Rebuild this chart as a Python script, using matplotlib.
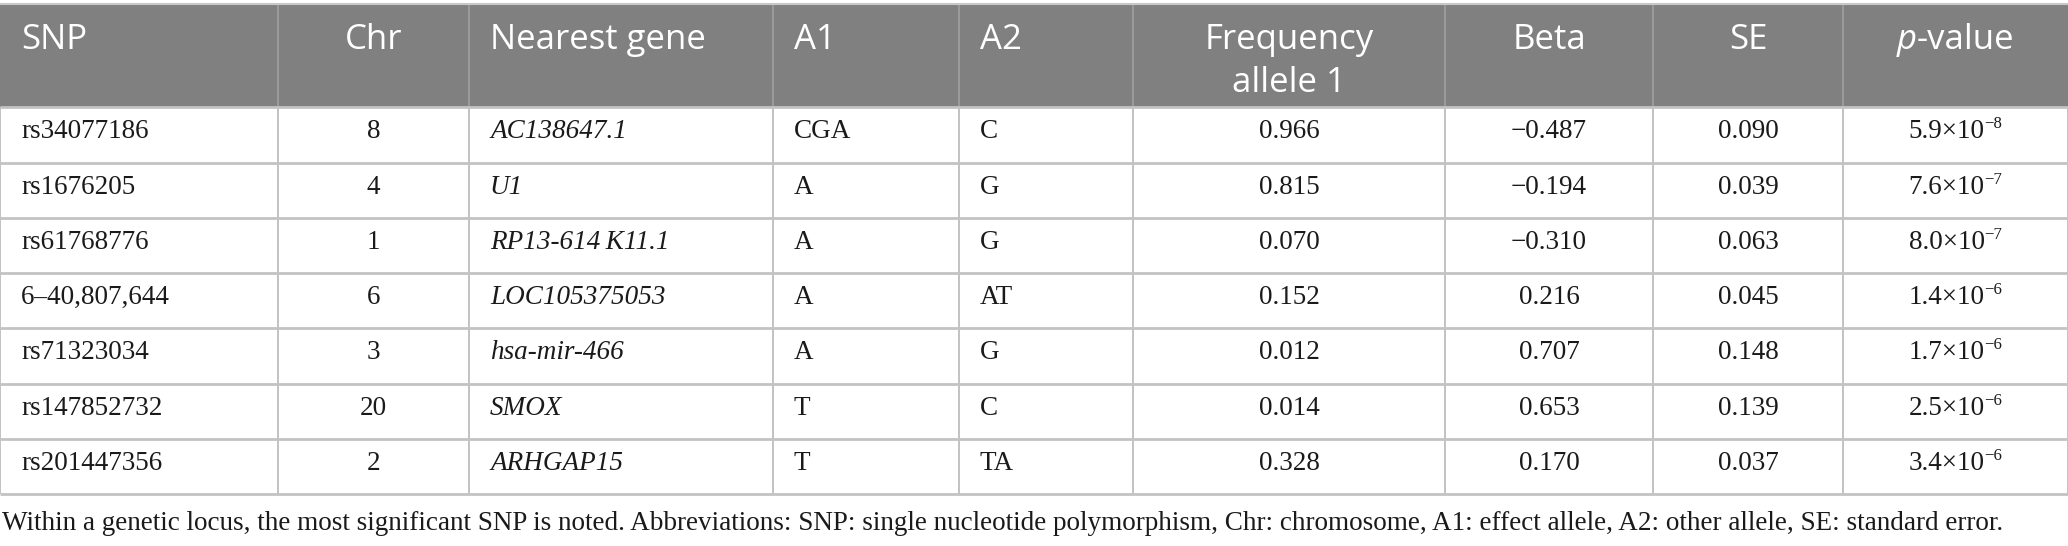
import matplotlib
matplotlib.use('Agg')
import matplotlib.pyplot as plt
from matplotlib.patches import Rectangle

W, H = 2068, 546

# ---- data ----
headers = ['SNP', 'Chr', 'Nearest gene', 'A1', 'A2', 'Frequency\nallele 1', 'Beta', 'SE', 'p-value']
snp = ['rs34077186', 'rs1676205', 'rs61768776', '6\u201340,807,644', 'rs71323034', 'rs147852732', 'rs201447356']
chrom = ['8', '4', '1', '6', '3', '20', '2']
gene = ['AC138647.1', 'U1', 'RP13-614\u2009K11.1', 'LOC105375053', 'hsa-mir-466', 'SMOX', 'ARHGAP15']
a1 = ['CGA', 'A', 'A', 'A', 'A', 'T', 'T']
a2 = ['C', 'G', 'G', 'AT', 'G', 'C', 'TA']
freq = ['0.966', '0.815', '0.070', '0.152', '0.012', '0.014', '0.328']
beta = ['\u22120.487', '\u22120.194', '\u22120.310', '0.216', '0.707', '0.653', '0.170']
se = ['0.090', '0.039', '0.063', '0.045', '0.148', '0.139', '0.037']
p_mant = ['5.9', '7.6', '8.0', '1.4', '1.7', '2.5', '3.4']
p_exp = ['\u22128', '\u22127', '\u22127', '\u22126', '\u22126', '\u22126', '\u22126']
footnote = ('Within a genetic locus, the most significant SNP is noted. Abbreviations: SNP: single nucleotide '
            'polymorphism, Chr: chromosome, A1: effect allele, A2: other allele, SE: standard error.')

# ---- layout ----
xb = [0, 278, 469, 773, 959, 1133, 1445, 1653, 1843, 2068]
yb = [4, 107, 162.5, 217.8, 273.1, 328.4, 383.7, 439, 494]
align = ['left', 'center', 'left', 'left', 'left', 'center', 'center', 'center', 'center']
pad = 21

HEAD_FONT = 'Open Sans'
BODY_FONT = 'Liberation Serif'
HS = 25
BS = 19.5
FS = 19.5

fig = plt.figure(figsize=(W / 100, H / 100), dpi=100)
fig.patch.set_facecolor('white')
ax = fig.add_axes([0, 0, 1, 1])
ax.set_xlim(0, W)
ax.set_ylim(H, 0)
ax.axis('off')
renderer = fig.canvas.get_renderer()


def tw(t):
    return t.get_window_extent(renderer).width


def col_x(c):
    if align[c] == 'left':
        return xb[c] + pad
    return (xb[c] + xb[c + 1]) / 2


def runs(x, y, parts, ha):
    """parts: list of (string, fontdict, dy)"""
    ts = []
    for s, fd, dy in parts:
        t = ax.text(0, y + dy, s, ha='left', va='baseline', **fd)
        ts.append(t)
    widths = [tw(t) for t in ts]
    total = sum(widths)
    x0 = x if ha == 'left' else x - total / 2
    for t, w in zip(ts, widths):
        t.set_x(x0)
        x0 += w


# header background
ax.add_patch(Rectangle((0, yb[0]), W, yb[1] - yb[0], facecolor='#808080', edgecolor='none', zorder=0))
ax.hlines(yb[0], 0, W, color='#c8c8c8', lw=1.5, zorder=2)
for x in xb[1:-1]:
    ax.vlines(x, yb[0], yb[1], color='#a0a0a0', lw=1.2, zorder=1)

# body lines
for y in yb[1:]:
    ax.hlines(y, 0, W, color='#c3c3c3', lw=2.0, zorder=2)
for x in xb:
    ax.vlines(x, yb[1], yb[-1], color='#b8b8b8', lw=1.2, zorder=1)

# header text
hfd = dict(family=HEAD_FONT, size=HS, color='white')
hfd_it = dict(family=HEAD_FONT, size=HS, color='white', style='italic')
hb1, hb2 = 49, 92
for c, h in enumerate(headers):
    x = col_x(c)
    if h == 'p-value':
        runs(x, hb1, [('p', hfd_it, 0), ('-value', hfd, 0)], align[c])
    else:
        lines = h.split('\n')
        for i, ln in enumerate(lines):
            ax.text(x, hb1 + i * (hb2 - hb1), ln, ha=align[c], va='baseline', **hfd)

# body text
bfd = dict(family=BODY_FONT, size=BS, color='#1a1a1a')
bfd_it = dict(family=BODY_FONT, size=BS, color='#1a1a1a', style='italic')
sfd = dict(family=BODY_FONT, size=BS * 0.62, color='#1a1a1a')
cols = [snp, chrom, gene, a1, a2, freq, beta, se]
for r in range(len(snp)):
    yb_line = yb[1 + r] + 31
    for c, vals in enumerate(cols):
        fd = bfd_it if c == 2 else bfd
        ax.text(col_x(c), yb_line, vals[r], ha=align[c], va='baseline', **fd)
    runs(col_x(8), yb_line, [(p_mant[r] + '\u00d710', bfd, 0), (p_exp[r], sfd, -10)], 'center')

# footnote
ax.text(2, 530, footnote, ha='left', va='baseline', family=BODY_FONT, size=FS, color='#1a1a1a')

fig.savefig('out.png', dpi=100, facecolor='white')
